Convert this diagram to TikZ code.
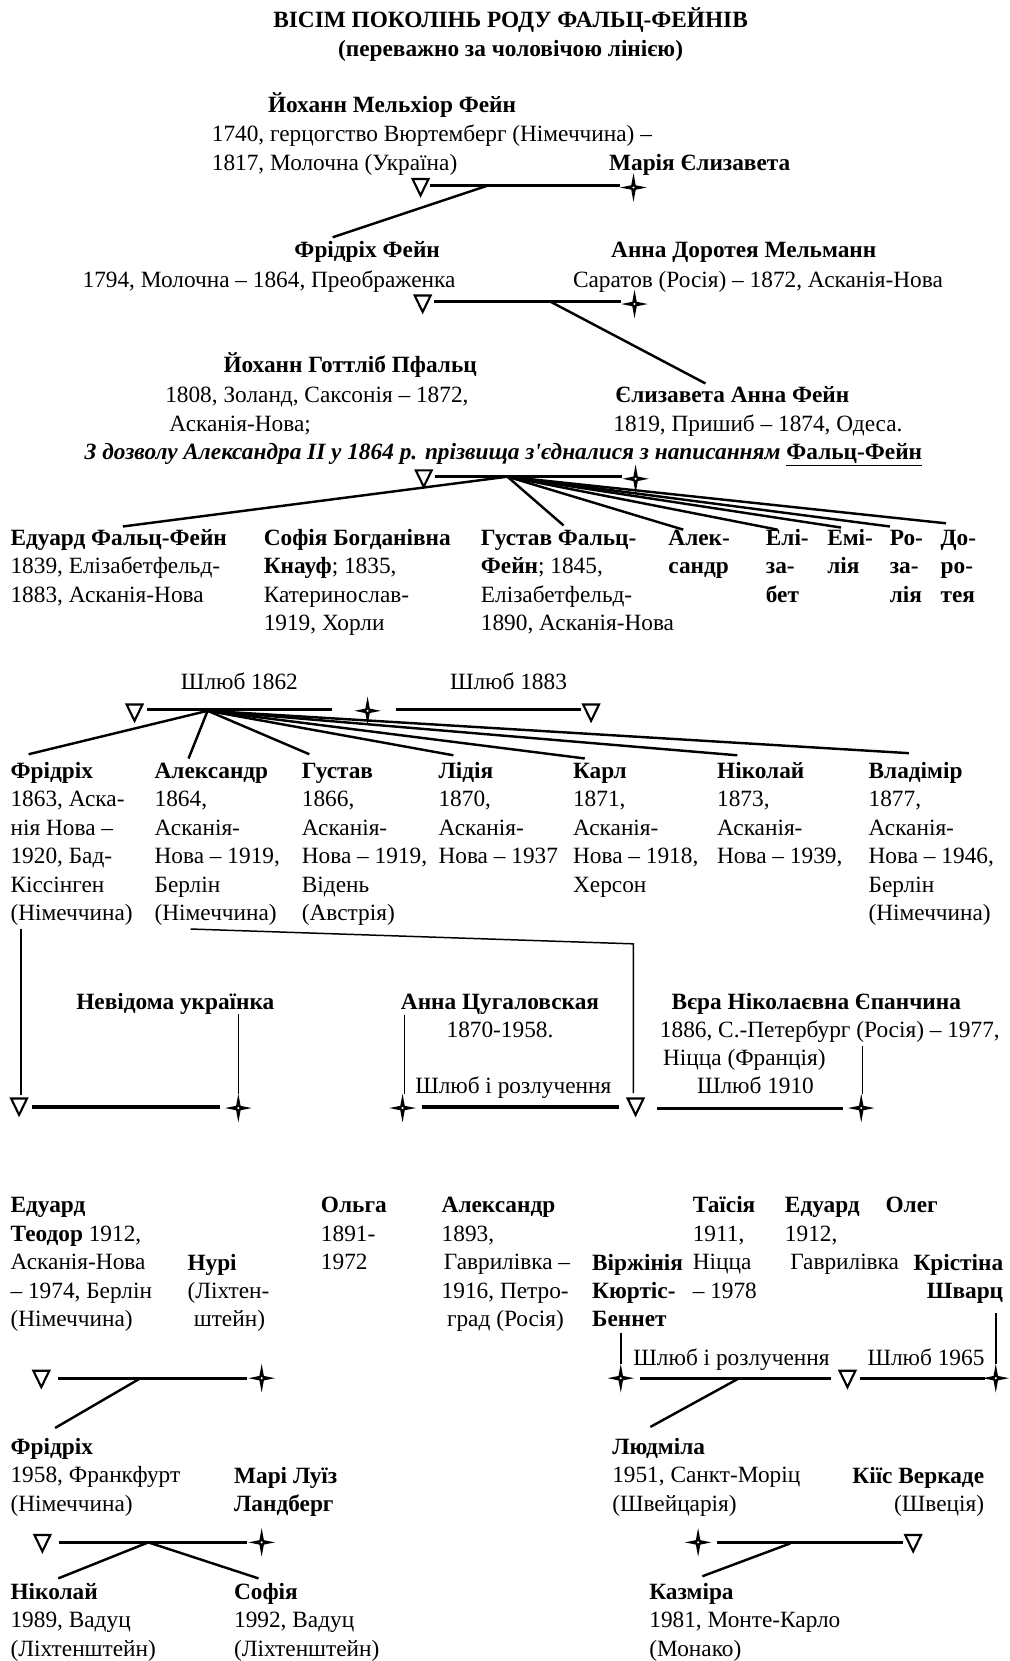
\documentclass[tikz,border=0pt]{standalone}
\usepackage{fontspec}
\setmainfont{Liberation Serif}
\usetikzlibrary{calc}
\newcommand\fs{\fontsize{22}{26.8}\selectfont}
\newcommand\tb[1]{\begin{tabular}[t]{@{}l@{}}#1\end{tabular}}
\newcommand\tbr[1]{\begin{tabular}[t]{@{}r@{}}#1\end{tabular}}
\begin{document}
\begin{tikzpicture}[x=1pt,y=-1pt,
 txt/.style={anchor=base west, inner sep=0pt, outer sep=0pt, font=\fs},
 txtc/.style={anchor=base, inner sep=0pt, outer sep=0pt, font=\fs},
 txtr/.style={anchor=base east, inner sep=0pt, outer sep=0pt, font=\fs},
 marr/.style={line width=2.9pt},
 conn/.style={line width=2.3pt},
 vline/.style={line width=1.4pt},
 tri/.pic={\draw[line width=2pt, fill=white, line join=miter] (-7.5,-7) -- (7.5,-7) -- (0,8.5) -- cycle;},
 star/.pic={\fill (0,-13.5) -- (2.1,-2.1) -- (12.5,0) -- (2.1,2.1) -- (0,13.5) -- (-2.1,2.1) -- (-12.5,0) -- (-2.1,-2.1) -- cycle; \fill[white] (0,0) circle (1.1);}
]
\useasboundingbox[fill=white] (0,0) rectangle (953,1568);

% title
\node[txtc] (title) at (482,26) {\bfseries ВІСІМ ПОКОЛІНЬ РОДУ ФАЛЬЦ-ФЕЙНІВ};
\node[txtc] (subtitle) at (482,53) {\bfseries (переважно за чоловічою лінією)};

% generation 1
\node[txt] (jmf) at (253,106) {\bfseries Йоханн Мельхіор Фейн};
\node[txt] (jmfd) at (200,134) {\tb{1740, герцогство Вюртемберг (Німеччина) –\\1817, Молочна (Україна)}};
\node[txt] (me) at (575,161) {\bfseries Марія Єлизавета};
\coordinate (a1) at (406,175); \coordinate (b1) at (585,175);
\draw[marr] (a1) -- (b1);
\pic (t1) at (397,176) {tri};
\pic (s1) at (598,177) {star};
\coordinate (h1) at (461,175); \coordinate (c1) at (314,224);
\draw[conn] (h1) -- (c1);

% generation 2
\node[txt] (ff) at (278,243) {\bfseries Фрідріх Фейн};
\node[txt] (ffd) at (78,271) {1794, Молочна – 1864, Преображенка};
\node[txt] (adm) at (577,243) {\bfseries Анна Доротея Мельманн};
\node[txt] (admd) at (541,271) {Саратов (Росія) – 1872, Асканія-Нова};
\coordinate (a2) at (410,285); \coordinate (b2) at (586,285);
\draw[marr] (a2) -- (b2);
\pic (t2) at (399,286) {tri};
\pic (s2) at (599,287) {star};
\coordinate (h2) at (520,285); \coordinate (c2) at (666,362);
\draw[conn] (h2) -- (c2);

% generation 3
\node[txt] (jgp) at (211,352) {\bfseries Йоханн Готтліб Пфальц};
\node[txt] (jgpd) at (156,380) {1808, Золанд, Саксонія – 1872,};
\node[txt] (jgpd2) at (160,407) {Асканія-Нова;};
\node[txt] (eaf) at (581,380) {\bfseries Єлизавета Анна Фейн};
\node[txt] (eafd) at (579,407) {1819, Пришиб – 1874, Одеса.};
\node[txt] (perm) at (80,434) {\textbf{\textit{З дозволу Александра II у 1864 р. прізвища з\textquotesingle єдналися з написанням}} \textbf{\underline{Фальц-Фейн}}};
\coordinate (a3) at (411,450); \coordinate (b3) at (587,450);
\draw[marr] (a3) -- (b3);
\pic (t3) at (400,451) {tri};
\pic (s3) at (600,452) {star};
\coordinate (h3) at (479,450);

\node[txt] (eff) at (10,515) {\tb{\textbf{Едуард Фальц-Фейн}\\1839, Елізабетфельд-\\1883, Асканія-Нова}};
\node[txt] (sbk) at (249,515) {\tb{\textbf{Софія Богданівна}\\\textbf{Кнауф}; 1835,\\Катеринослав-\\1919, Хорли}};
\node[txt] (gff) at (454,515) {\tb{\textbf{Густав Фальц-}\\\textbf{Фейн}; 1845,\\Елізабетфельд-\\1890, Асканія-Нова}};
\node[txt] (alx) at (631,515) {\tb{\textbf{Алек-}\\\textbf{сандр}}};
\node[txt] (eli) at (723,515) {\tb{\textbf{Елі-}\\\textbf{за-}\\\textbf{бет}}};
\node[txt] (emi) at (781,515) {\tb{\textbf{Емі-}\\\textbf{лія}}};
\node[txt] (roz) at (840,515) {\tb{\textbf{Ро-}\\\textbf{за-}\\\textbf{лія}}};
\node[txt] (dor) at (888,515) {\tb{\textbf{До-}\\\textbf{ро-}\\\textbf{тея}}};
\coordinate (e3a) at (116,497);
\coordinate (e3b) at (532,496);
\coordinate (e3c) at (645,500);
\coordinate (e3d) at (734,500);
\coordinate (e3e) at (794,498);
\coordinate (e3f) at (840,497);
\coordinate (e3g) at (893,494);
\foreach \e in {e3a,e3b,e3c,e3d,e3e,e3f,e3g} \draw[conn] (h3) -- (\e);

% generation 4 marriages
\node[txtc] (m1862) at (226,651) {Шлюб 1862};
\node[txtc] (m1883) at (480,651) {Шлюб 1883};
\coordinate (a4) at (139,670); \coordinate (b4) at (313,670);
\coordinate (a4b) at (374,670); \coordinate (b4b) at (548,670);
\draw[marr] (a4) -- (b4);
\draw[marr] (a4b) -- (b4b);
\pic (t4) at (127,672) {tri};
\pic (s4) at (347,671) {star};
\pic (t4b) at (558,672) {tri};
\coordinate (h4) at (196,671);
\coordinate (e4a) at (27,712);
\coordinate (e4b) at (178,716);
\coordinate (e4c) at (292,712);
\coordinate (e4d) at (428,713);
\coordinate (e4e) at (552,716);
\coordinate (e4f) at (696,713);
\coordinate (e4g) at (858,711);
\foreach \e in {e4a,e4b,e4c,e4d,e4e,e4f,e4g} \draw[conn] (h4) -- (\e);

% generation 5
\node[txt] (fr5) at (10,735) {\tb{\textbf{Фрідріх}\\1863, Аска-\\нія Нова –\\1920, Бад-\\Кіссінген\\(Німеччина)}};
\node[txt] (al5) at (146,735) {\tb{\textbf{Александр}\\1864,\\Асканія-\\Нова – 1919,\\Берлін\\(Німеччина)}};
\node[txt] (gu5) at (285,735) {\tb{\textbf{Густав}\\1866,\\Асканія-\\Нова – 1919,\\Відень\\(Австрія)}};
\node[txt] (li5) at (414,735) {\tb{\textbf{Лідія}\\1870,\\Асканія-\\Нова – 1937}};
\node[txt] (ka5) at (541,735) {\tb{\textbf{Карл}\\1871,\\Асканія-\\Нова – 1918,\\Херсон}};
\node[txt] (ni5) at (677,735) {\tb{\textbf{Ніколай}\\1873,\\Асканія-\\Нова – 1939,}};
\node[txt] (vl5) at (820,735) {\tb{\textbf{Владімір}\\1877,\\Асканія-\\Нова – 1946,\\Берлін\\(Німеччина)}};

% generation 5 -> 6
\node[txt] (nu) at (72,953) {\bfseries Невідома українка};
\coordinate (v1a) at (20,877); \coordinate (v1b) at (20,1034);
\draw[vline] (v1a) -- (v1b);
\coordinate (a5) at (30,1045); \coordinate (b5) at (208,1045);
\draw[marr] (a5) -- (b5);
\pic (t5) at (18,1044) {tri};
\pic (s5) at (225,1046) {star};
\coordinate (v2a) at (225,957); \coordinate (v2b) at (225,1033);
\draw[vline] (v2a) -- (v2b);

\node[txtc] (ac) at (472,953) {\bfseries Анна Цугаловская};
\node[txtc] (acd) at (472,979) {1870-1958.};
\node[txt] (mr1) at (392,1032) {Шлюб і розлучення};
\node[txt] (ve) at (634,953) {\bfseries Вєра Ніколаєвна Єпанчина};
\node[txt] (ved) at (623,979) {1886, С.-Петербург (Росія) – 1977,};
\node[txt] (ved2) at (626,1006) {Ніцца (Франція)};
\node[txt] (m1910) at (658,1032) {Шлюб 1910};
\coordinate (al5a) at (180,877); \coordinate (al5b) at (598,891); \coordinate (al5c) at (598,1032);
\draw[vline] (al5a) -- (al5b) -- (al5c);
\coordinate (a6) at (398,1045); \coordinate (b6) at (584,1045);
\draw[marr] (a6) -- (b6);
\coordinate (a6b) at (620,1046); \coordinate (b6b) at (796,1046);
\draw[marr] (a6b) -- (b6b);
\pic (s6a) at (380,1046) {star};
\pic (t6) at (600,1044) {tri};
\pic (s6b) at (813,1046) {star};
\coordinate (v3a) at (382,958); \coordinate (v3b) at (382,1033);
\draw[vline] (v3a) -- (v3b);
\coordinate (v4a) at (814,987); \coordinate (v4b) at (814,1033);
\draw[vline] (v4a) -- (v4b);

% generation 6
\node[txt] (ed6) at (10,1145) {\tb{\textbf{Едуард}\\\textbf{Теодор} 1912,\\Асканія-Нова\\– 1974, Берлін\\(Німеччина)}};
\node[txt] (nur) at (177,1199) {\tb{\textbf{Нурі}\\(Ліхтен-\\\hspace*{6pt}штейн)}};
\node[txt] (ol6) at (303,1145) {\tb{\textbf{Ольга}\\1891-\\1972}};
\node[txt] (al6) at (417,1145) {\tb{\textbf{Александр}\\1893,\\\hspace*{2pt}Гаврилівка –\\1916, Петро-\\\hspace*{5pt}град (Росія)}};
\node[txt] (vir) at (559,1199) {\tb{\textbf{Віржінія}\\\textbf{Кюртіс-}\\\textbf{Беннет}}};
\node[txt] (ta6) at (654,1145) {\tb{\textbf{Таїсія}\\1911,\\Ніцца\\– 1978}};
\node[txt] (ed6b) at (741,1145) {\tb{\textbf{Едуард}\\1912,\\\hspace*{5pt}Гаврилівка}};
\node[txt] (ol6b) at (836,1145) {\bfseries Олег};
\node[txtr] (kri) at (947,1199) {\tbr{\textbf{Крістіна}\\\textbf{Шварц}}};

\coordinate (a7) at (55,1301); \coordinate (b7) at (233,1301);
\draw[marr] (a7) -- (b7);
\pic (t7) at (39,1301) {tri};
\pic (s7) at (247,1301) {star};
\coordinate (h7) at (131,1302); \coordinate (c7) at (52,1348);
\draw[conn] (h7) -- (c7);

\coordinate (v5a) at (586,1258); \coordinate (v5b) at (586,1288);
\draw[vline] (v5a) -- (v5b);
\node[txt] (mr2) at (598,1289) {Шлюб і розлучення};
\node[txt] (m1965) at (819,1289) {Шлюб 1965};
\coordinate (a8) at (604,1301); \coordinate (b8) at (784,1301);
\draw[marr] (a8) -- (b8);
\coordinate (a8b) at (812,1301); \coordinate (b8b) at (930,1301);
\draw[marr] (a8b) -- (b8b);
\pic (s8a) at (586,1301) {star};
\pic (t8) at (800,1301) {tri};
\pic (s8b) at (940,1301) {star};
\coordinate (v6a) at (940,1239); \coordinate (v6b) at (940,1288);
\draw[vline] (v6a) -- (v6b);
\coordinate (h8) at (696,1302); \coordinate (c8) at (614,1347);
\draw[conn] (h8) -- (c8);

% generation 7
\node[txt] (fr7) at (10,1373) {\tb{\textbf{Фрідріх}\\1958, Франкфурт\\(Німеччина)}};
\node[txt] (mll) at (221,1400) {\tb{\textbf{Марі Луїз}\\\textbf{Ландберг}}};
\node[txt] (lud) at (578,1373) {\tb{\textbf{Людміла}\\1951, Санкт-Моріц\\(Швейцарія)}};
\node[txtr] (kv) at (929,1400) {\tbr{\textbf{Кіїс Веркаде}\\(Швеція)}};

\coordinate (a9) at (56,1456); \coordinate (b9) at (233,1456);
\draw[marr] (a9) -- (b9);
\pic (t9) at (40,1456) {tri};
\pic (s9) at (247,1456) {star};
\coordinate (h9) at (140,1456);
\coordinate (c9a) at (55,1490); \coordinate (c9b) at (244,1490);
\draw[conn] (c9a) -- (h9) -- (c9b);

\coordinate (a10) at (677,1456); \coordinate (b10) at (852,1456);
\draw[marr] (a10) -- (b10);
\pic (s10) at (659,1456) {star};
\pic (t10) at (862,1456) {tri};
\coordinate (h10) at (746,1457); \coordinate (c10) at (663,1488);
\draw[conn] (h10) -- (c10);

% generation 8
\node[txt] (ni8) at (10,1510) {\tb{\textbf{Ніколай}\\1989, Вадуц\\(Ліхтенштейн)}};
\node[txt] (so8) at (221,1510) {\tb{\textbf{Софія}\\1992, Вадуц\\(Ліхтенштейн)}};
\node[txt] (ka8) at (613,1510) {\tb{\textbf{Казміра}\\1981, Монте-Карло\\(Монако)}};
\end{tikzpicture}
\end{document}
